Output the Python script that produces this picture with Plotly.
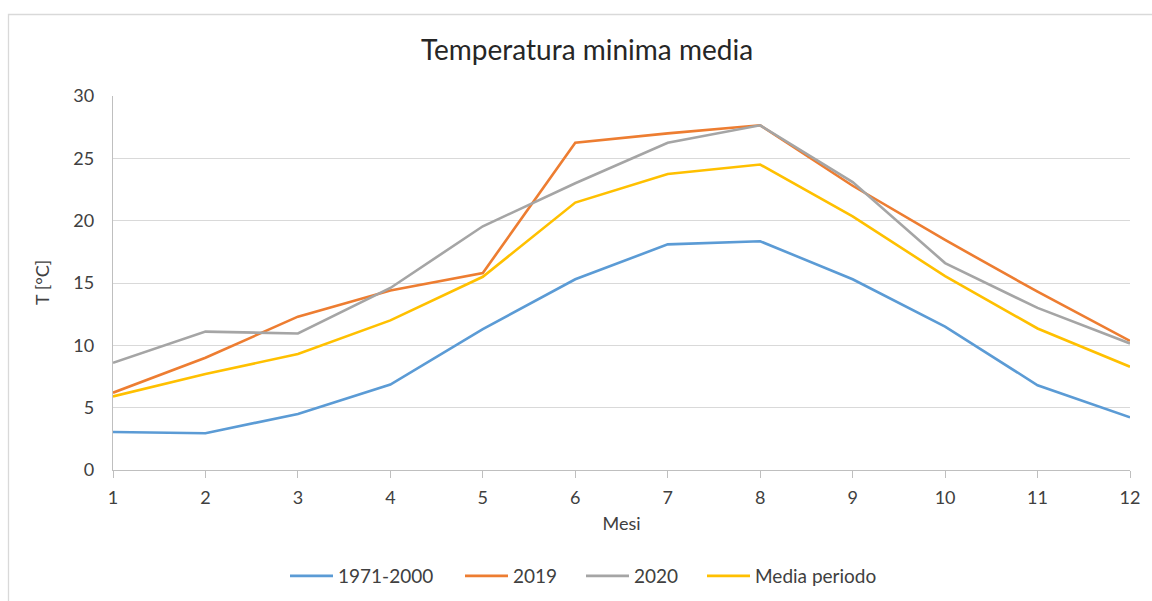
import plotly.graph_objects as go

# Mesi e temperature minime medie mensili (°C)
mesi = [1, 2, 3, 4, 5, 6, 7, 8, 9, 10, 11, 12]
t_1971_2000 = [3.05, 2.95, 4.5, 6.85, 11.3, 15.3, 18.1, 18.35, 15.3, 11.5, 6.8, 4.22]
t_2019 = [6.2, 9.0, 12.3, 14.4, 15.8, 26.25, 27.0, 27.65, 22.8, 18.45, 14.3, 10.36]
t_2020 = [8.6, 11.1, 10.95, 14.6, 19.55, 23.0, 26.25, 27.65, 23.1, 16.6, 13.0, 10.15]
media_periodo = [5.9, 7.7, 9.3, 12.0, 15.5, 21.45, 23.75, 24.5, 20.35, 15.55, 11.35, 8.28]

serie = [
    ("1971-2000", t_1971_2000, "#5B9BD5"),
    ("2019", t_2019, "#ED7D31"),
    ("2020", t_2020, "#A5A5A5"),
    ("Media periodo", media_periodo, "#FFC000"),
]

FONT = "Lato, 'Open Sans', sans-serif"
TXT = "#404040"

W, H = 1152, 601
L, R, T, B = 113, 22, 96, 131
pw, ph = W - L - R, H - T - B


def px_x(p):
    return (p - L) / pw


def px_y(p):
    return (H - B - p) / ph


# Each legend entry sits in its own legend box, placed left to right
legend_left = [291, 466, 587, 708]
legend_ids = ["legend", "legend2", "legend3", "legend4"]

fig = go.Figure()
for (nome, valori, colore), lid in zip(serie, legend_ids):
    fig.add_trace(go.Scatter(
        x=mesi, y=valori, name=nome, mode="lines",
        line=dict(color=colore, width=2.6),
        legend=lid,
    ))

legend_common = dict(
    orientation="h", xanchor="left", yanchor="middle",
    font=dict(family=FONT, size=19, color=TXT),
    itemwidth=43, bgcolor="rgba(0,0,0,0)", borderwidth=0,
)

layout_legends = {}
for lid, left in zip(legend_ids, legend_left):
    layout_legends[lid] = dict(legend_common, x=px_x(left - 6), y=px_y(576))

fig.update_layout(
    width=W, height=H,
    margin=dict(l=L, r=R, t=T, b=B, autoexpand=False),
    paper_bgcolor="white", plot_bgcolor="white",
    font=dict(family=FONT, size=18, color=TXT),
    title=dict(
        text="Temperatura minima media",
        xref="container", x=587 / W, xanchor="center",
        yref="container", y=1 - 50 / H, yanchor="middle",
        font=dict(family=FONT, size=28, color="#262626"),
    ),
    xaxis=dict(
        range=[1, 12], tickmode="array", tickvals=mesi,
        showgrid=False, zeroline=False,
        showline=True, linecolor="#BFBFBF", linewidth=1.3,
        ticks="outside", ticklen=7, tickcolor="#BFBFBF", tickwidth=1.3,
        ticklabelstandoff=4,
        tickfont=dict(family=FONT, size=18, color=TXT),
        title=dict(text="Mesi", standoff=10, font=dict(family=FONT, size=18, color=TXT)),
    ),
    yaxis=dict(
        range=[0, 30], tickvals=[0, 5, 10, 15, 20, 25, 30],
        showgrid=True, gridcolor="#D9D9D9", gridwidth=1.3,
        zeroline=False,
        showline=True, linecolor="#BFBFBF", linewidth=1.3,
        ticks="", ticklabelstandoff=14,
        tickfont=dict(family=FONT, size=18, color=TXT),
    ),
    showlegend=True,
    **layout_legends,
)

# Titolo asse Y
fig.add_annotation(
    text="T [°C]", textangle=-90,
    xref="paper", yref="paper", x=px_x(42), y=px_y(283),
    xanchor="center", yanchor="middle", showarrow=False,
    font=dict(family=FONT, size=18, color=TXT),
)

# Cornice dell'area del grafico
fig.add_shape(
    type="rect", xref="paper", yref="paper",
    x0=px_x(8.5), x1=px_x(W + 10), y0=px_y(H + 10), y1=px_y(14.5),
    line=dict(color="#D9D9D9", width=1.3), fillcolor="rgba(0,0,0,0)",
    layer="below",
)

fig.write_html("out.html")
